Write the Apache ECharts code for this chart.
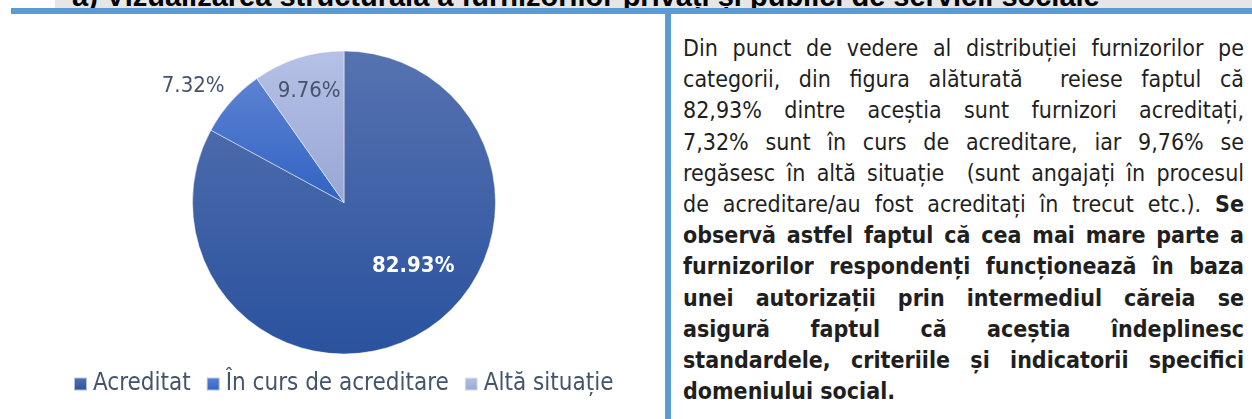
<!DOCTYPE html>
<html lang="ro">
<head>
<meta charset="utf-8">
<script src="https://cdn.jsdelivr.net/npm/echarts@6/dist/echarts.min.js"></script>
<style>
	body { margin: 0; width: 1252px; height: 419px; background: #fff; overflow: hidden; position: relative; }
	#titre { position: absolute; left: 55px; top: 0; width: 1197px; height: 8px; background: #e6e6e6; overflow: hidden; }
	#titre span { position: absolute; left: 17px; top: -18px; font: bold 29px/29px "Liberation Sans", Arial, sans-serif; color: #000; white-space: nowrap; }
	#ligneH { position: absolute; left: 11px; top: 8px; width: 1241px; height: 6px; background: #5b9bd5; }
	#ligneV { position: absolute; left: 665px; top: 14px; width: 6px; height: 405px; background: #5b9bd5; }
	#pieChart { position: absolute; left: 0; top: 14px; width: 665px; height: 405px; }
	#texte { position: absolute; left: 683px; top: 33px; width: 561px; font-family: "DejaVu Sans Condensed", "DejaVu Sans", sans-serif; font-stretch: condensed; font-size: 23px; line-height: 31.2px; color: #1f1f1f; }
	#texte div { text-align: justify; text-align-last: justify; white-space: nowrap; }
	#texte div.fin { text-align-last: left; }
	#texte b { font-weight: bold; }
</style>
</head>
<body>
<div id="titre"><span>a) Vizualizarea structurală a furnizorilor privați și publici de servicii sociale</span></div>
<div id="ligneH"></div>
<div id="ligneV"></div>
<div id="pieChart"></div>
<div id="texte">
	<div>Din punct de vedere al distribuției furnizorilor pe</div>
	<div>categorii, din figura alăturată&nbsp; reiese faptul că</div>
	<div>82,93% dintre aceștia sunt furnizori acreditați,</div>
	<div>7,32% sunt în curs de acreditare, iar 9,76% se</div>
	<div>regăsesc în altă situație&nbsp; (sunt angajați în procesul</div>
	<div>de acreditare/au fost acreditați în trecut etc.). <b>Se</b></div>
	<div><b>observă astfel faptul că cea mai mare parte a</b></div>
	<div><b>furnizorilor respondenți funcționează în baza</b></div>
	<div><b>unei autorizații prin intermediul căreia se</b></div>
	<div><b>asigură faptul că aceștia îndeplinesc</b></div>
	<div><b>standardele, criteriile și indicatorii specifici</b></div>
	<div class="fin"><b>domeniului social.</b></div>
</div>
<script>
// données du camembert
const categories = ["Acreditat", "În curs de acreditare", "Altă situație"];
const values = [82.93, 7.32, 9.76];

// couleurs (dégradé haut -> bas) et décalage des étiquettes
const sliceColors = [
	["#5672b0", "#2a529e"],
	["#5c82d2", "#3063c3"],
	["#b5c1e5", "#98a6d5"],
];
const labelShift = [
	[29, -4],
	[-92, -64],
	[-11, -36],
];
const police = "DejaVu Sans Condensed";

let pieChart = null;

document.addEventListener("DOMContentLoaded", () => {
	const datas = categories.map((name, i) => ({
		name: name,
		value: values[i],
		itemStyle: {
			color: {
				type: "linear",
				x: 0, y: 0, x2: 0, y2: 1,
				colorStops: [
					{ offset: 0, color: sliceColors[i][0] },
					{ offset: 1, color: sliceColors[i][1] },
				],
			},
		},
		label: i === 0
			? { color: "#fff", fontWeight: "bold", fontSize: 22 }
			: { color: "#44546a", fontSize: 22 },
	}));

	pieChart = echarts.init(document.querySelector("#pieChart"));
	pieChart.setOption({
		animation: false,
		legend: {
			left: 68,
			top: 353,
			icon: "rect",
			itemWidth: 13,
			itemHeight: 13,
			itemGap: 15,
			textStyle: {
				fontFamily: police,
				fontSize: 24,
				color: "#44546a",
				padding: [0, 0, 0, 1],
			},
			data: categories,
		},
		series: [
			{
				name: "Furnizori",
				type: "pie",
				center: [344, 188.5],
				radius: 151.5,
				startAngle: 90,
				clockwise: true,
				data: datas,
				itemStyle: {
					borderColor: "rgba(255,255,255,0.6)",
					borderWidth: 0.8,
				},
				label: {
					show: true,
					position: "inside",
					fontFamily: police,
					formatter: (p) => p.value.toFixed(2) + "%",
				},
				labelLine: { show: false },
				labelLayout: (p) => ({
					dx: labelShift[p.dataIndex][0],
					dy: labelShift[p.dataIndex][1],
				}),
				emphasis: { disabled: true },
			},
		],
	});
});
</script>
</body>
</html>
